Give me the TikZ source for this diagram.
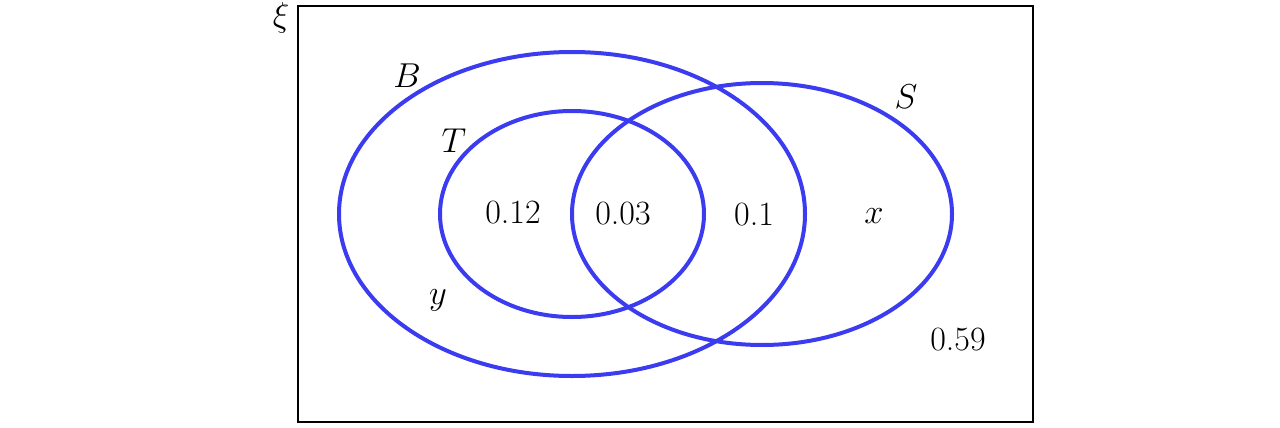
\documentclass[tikz,border=0pt]{standalone}
\usetikzlibrary{shapes.geometric}
\definecolor{vennblue}{RGB}{59,59,240}
\begin{document}
\begin{tikzpicture}[x=0.5pt,y=-0.5pt,
  setline/.style={draw=vennblue,line width=2pt},
  lbl/.style={inner sep=0pt,font=\fontsize{17}{20}\selectfont}]
\useasboundingbox (0,0) rectangle (1280,428);
\node[draw=black,line width=1.3pt,inner sep=0pt,
  minimum width=367.5pt,minimum height=208pt] (xi) at (665.5,214) {};
\node[setline,ellipse,inner sep=0pt,minimum width=233pt,minimum height=162pt] (B) at (572,214) {};
\node[setline,ellipse,inner sep=0pt,minimum width=132pt,minimum height=103pt] (T) at (572,214) {};
\node[setline,ellipse,inner sep=0pt,minimum width=190pt,minimum height=131pt] (S) at (762,214) {};
\node[lbl] (lxi) at (281,18) {$\xi$};
\node[lbl] (lB) at (407,76) {$B$};
\node[lbl] (lT) at (454,141) {$T$};
\node[lbl] (lS) at (906,97) {$S$};
\node[lbl] (n1) at (513,213) {0.12};
\node[lbl] (n2) at (623,214) {0.03};
\node[lbl] (n3) at (754,215) {0.1};
\node[lbl] (lx) at (874,216) {$x$};
\node[lbl] (ly) at (438,300) {$y$};
\node[lbl] (n4) at (958,340) {0.59};
\end{tikzpicture}
\end{document}
